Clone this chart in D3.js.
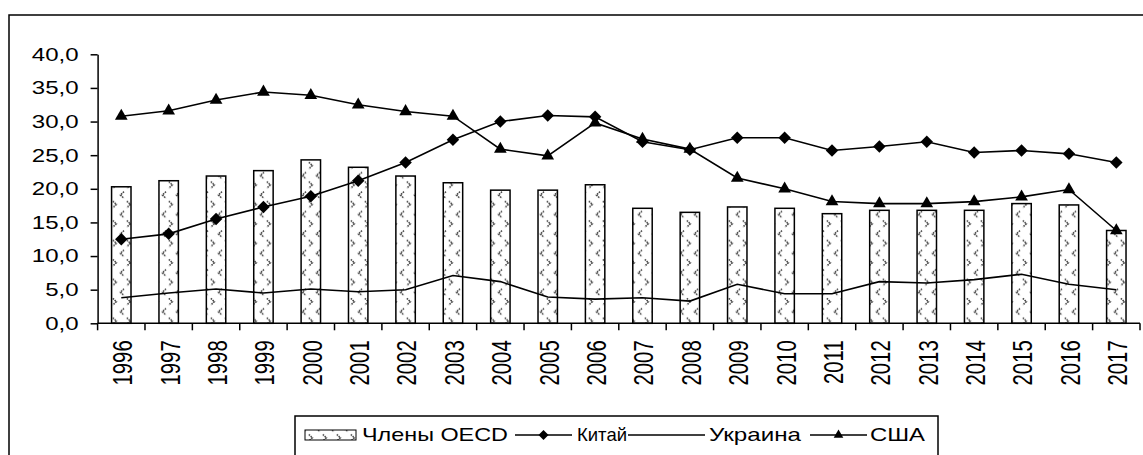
<!DOCTYPE html>
<html>
<head>
<meta charset="utf-8">
<script src="https://cdn.jsdelivr.net/npm/d3@7"></script>
<style>
body { margin: 0; background: #fff; }
text { font-family: "Liberation Sans", Arial, sans-serif; fill: #000; }
</style>
</head>
<body>
<div id="chart"></div>
<script>
var years = ["1996","1997","1998","1999","2000","2001","2002","2003","2004","2005","2006",
             "2007","2008","2009","2010","2011","2012","2013","2014","2015","2016","2017"];
var oecd    = [20.3,21.2,21.9,22.7,24.3,23.2,21.9,20.9,19.8,19.8,20.6,17.1,16.5,17.3,17.1,16.3,16.8,16.8,16.8,17.8,17.6,13.8];
var china   = [12.5,13.3,15.5,17.3,18.9,21.2,23.9,27.3,30.0,30.9,30.7,27.0,25.8,27.6,27.6,25.7,26.3,27.0,25.4,25.7,25.2,23.9];
var ukraine = [3.8,4.5,5.1,4.5,5.1,4.7,5.0,7.1,6.2,3.9,3.6,3.8,3.3,5.8,4.4,4.4,6.2,6.0,6.5,7.3,5.8,5.0];
var usa     = [30.8,31.6,33.2,34.4,33.9,32.5,31.5,30.8,25.9,24.9,29.8,27.4,25.9,21.6,20.0,18.1,17.8,17.8,18.1,18.8,19.9,13.8];
var yTicks = [0,5,10,15,20,25,30,35,40];
var legendLabels = ["Члены OECD","Китай","Украина","США"];

var width = 1143, height = 455;
var stretch = 1.3;   // text in the original is widened horizontally

var svg = d3.select("#chart").append("svg")
    .attr("width", width)
    .attr("height", height)

// bar fill pattern: small grey chevrons
var pat = svg.append("defs").append("pattern")
    .attr("id", "chev")
    .attr("patternUnits", "userSpaceOnUse")
    .attr("x", 0).attr("y", -4.4)
    .attr("width", 14).attr("height", 19.45)
pat.append("rect").attr("width", 14).attr("height", 19.45).attr("fill", "#fff")
pat.append("path")
    .attr("d", "M12,1.6 L8.4,4.9 L12,8.2 M0.8,11 L4.4,14.3 L0.8,17.6")
    .attr("fill", "none")
    .attr("stroke", "#444")
    .attr("stroke-width", 1.5)
    .attr("stroke-dasharray", "1.6,0.8")

// outer frame
svg.append("rect")
    .attr("x", 9).attr("y", 15)
    .attr("width", 1160).attr("height", 470)
    .attr("fill", "none")
    .attr("stroke", "#000")
    .attr("stroke-width", 1.5)

var x = d3.scaleBand().domain(years).range([97.6, 1140]).padding(0);
var y = d3.scaleLinear().domain([0, 40]).range([323.3, 54.3]);
var cx = function(i) { return x(years[i]) + x.bandwidth() / 2; };
var fmt = function(d) { return d3.format(".1f")(d).replace(".", ","); };

var g = svg.append("g");

// bars
var bw = x.bandwidth() * 0.41;
g.selectAll("rect.bar")
    .data(oecd)
  .enter().append("rect")
    .attr("class", "bar")
    .attr("x", function(d, i) { return cx(i) - bw / 2; })
    .attr("y", function(d) { return y(d); })
    .attr("width", bw)
    .attr("height", function(d) { return y(0) - y(d); })
    .attr("fill", "url(#chev)")
    .attr("stroke", "#000")
    .attr("stroke-width", 1.5)

// lines
var line = d3.line()
    .x(function(d, i) { return cx(i); })
    .y(function(d) { return y(d); });

[ukraine, china, usa].forEach(function(s) {
    g.append("path")
        .datum(s)
        .attr("d", line)
        .attr("fill", "none")
        .attr("stroke", "#000")
        .attr("stroke-width", 1.6)
});

var diamond = d3.symbol().type(d3.symbolSquare).size(78);
var triangle = d3.symbol().type(d3.symbolTriangle).size(70);

g.selectAll("path.cn")
    .data(china)
  .enter().append("path")
    .attr("class", "cn")
    .attr("d", diamond)
    .attr("transform", function(d, i) { return "translate(" + cx(i) + "," + y(d) + ") rotate(45)"; })
    .attr("fill", "#000")

g.selectAll("path.us")
    .data(usa)
  .enter().append("path")
    .attr("class", "us")
    .attr("d", triangle)
    .attr("transform", function(d, i) { return "translate(" + cx(i) + "," + y(d) + ")"; })
    .attr("fill", "#000")

// y axis
var yAxis = svg.append("g")
    .attr("transform", "translate(" + x.range()[0] + ",0)")
    .call(d3.axisLeft(y).tickValues(yTicks).tickFormat(fmt).tickSize(7).tickSizeOuter(0))
yAxis.select(".domain").attr("stroke-width", 1.5)
yAxis.selectAll(".tick line").attr("stroke-width", 1.5)
yAxis.selectAll("text")
    .attr("x", 0)
    .attr("transform", "translate(-19,0) scale(" + stretch + ",1)")
    .attr("font-size", 18.5)
    .attr("fill", "#000")

// x axis: line, ticks at category boundaries, rotated labels at centres
var xa = svg.append("g");
xa.append("line")
    .attr("x1", x.range()[0]).attr("x2", x.range()[1])
    .attr("y1", y(0)).attr("y2", y(0))
    .attr("stroke", "#000").attr("stroke-width", 1.5)
var bounds = years.map(function(d) { return x(d); }).concat([x.range()[1]]);
xa.selectAll("line.tk")
    .data(bounds)
  .enter().append("line")
    .attr("class", "tk")
    .attr("x1", function(d) { return d; }).attr("x2", function(d) { return d; })
    .attr("y1", y(0)).attr("y2", y(0) + 7)
    .attr("stroke", "#000").attr("stroke-width", 1.5)
xa.selectAll("text")
    .data(years)
  .enter().append("text")
    .attr("transform", function(d) {
        return "translate(" + (x(d) + x.bandwidth() / 2 + 1) + "," + (y(0) + 17) + ") scale(1.35,1) rotate(-90)";
    })
    .attr("dy", "0.36em")
    .attr("text-anchor", "end")
    .attr("font-size", 20.3)
    .text(function(d) { return d; })

// legend
var leg = svg.append("g");
leg.append("rect")
    .attr("x", 295).attr("y", 416)
    .attr("width", 643).attr("height", 60)
    .attr("fill", "#fff").attr("stroke", "#000").attr("stroke-width", 1.5)
var ly = 435;
leg.append("rect")
    .attr("x", 305).attr("y", ly - 5)
    .attr("width", 51).attr("height", 10)
    .attr("fill", "url(#chev)").attr("stroke", "#000").attr("stroke-width", 1)
var items = [
    { label: legendLabels[0], tx: 362, w: 146 },
    { label: legendLabels[1], tx: 577, l1: 515, l2: 572, m: diamond, rot: 45 },
    { label: legendLabels[2], tx: 709, w: 92, l1: 628, l2: 705 },
    { label: legendLabels[3], tx: 870, w: 55, l1: 810, l2: 867, m: triangle, rot: 0 }
];
items.forEach(function(it) {
    if (it.l1) {
        leg.append("line")
            .attr("x1", it.l1).attr("x2", it.l2)
            .attr("y1", ly).attr("y2", ly)
            .attr("stroke", "#000").attr("stroke-width", 1.5)
    }
    if (it.m) {
        leg.append("path")
            .attr("d", d3.symbol().type(it.rot ? d3.symbolSquare : d3.symbolTriangle).size(it.rot ? 50 : 40))
            .attr("transform", "translate(" + (it.l1 + it.l2) / 2 + "," + ly + ") rotate(" + it.rot + ")")
            .attr("fill", "#000")
    }
    var t = leg.append("text")
        .attr("x", it.tx).attr("y", ly)
        .attr("dy", "0.35em")
        .attr("font-size", 18.5)
        .text(it.label)
    if (it.w) {
        t.attr("textLength", it.w).attr("lengthAdjust", "spacingAndGlyphs")
    }
});
</script>
</body>
</html>
